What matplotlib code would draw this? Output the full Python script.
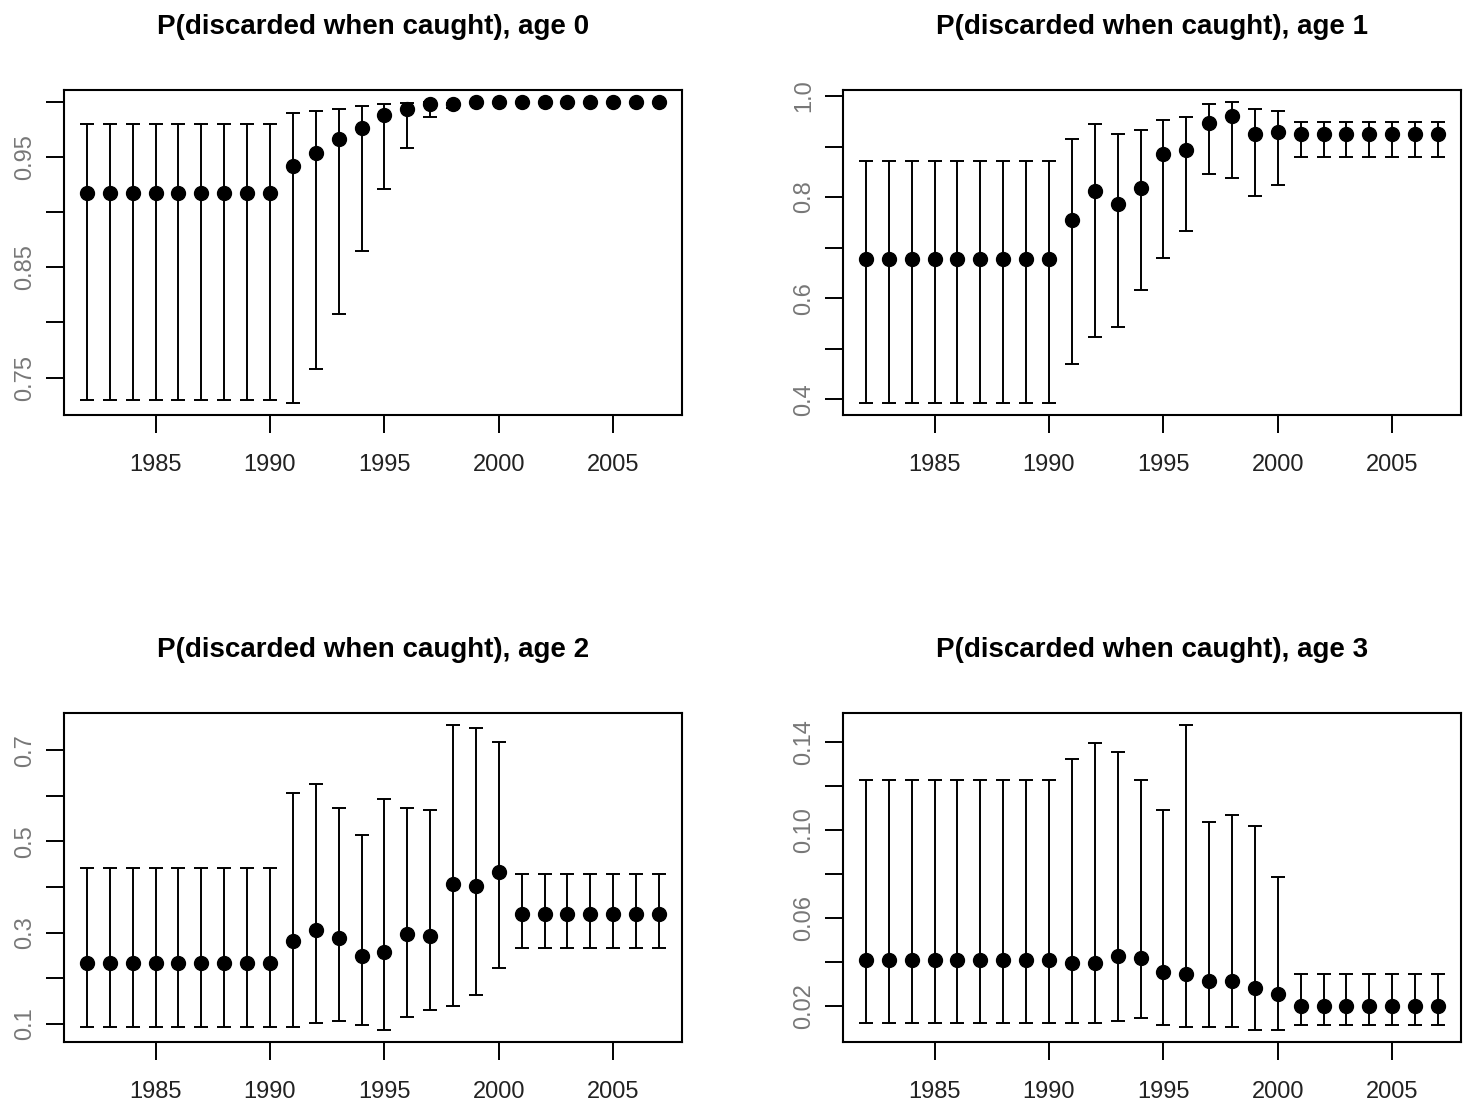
import numpy as np
import matplotlib
matplotlib.use("Agg")
import matplotlib.pyplot as plt

plt.rcParams['font.family'] = ['Liberation Sans', 'DejaVu Sans']

years = np.arange(1982, 2008)

# age 0
mid0 = [0.917]*9 + [0.942, 0.954, 0.966, 0.976, 0.988, 0.994, 0.9985, 0.998] + [1.000]*9
up0 = [0.980]*9 + [0.990, 0.992, 0.994, 0.996, 0.998, 0.999, 1.000, 0.999] + [1.000]*9
lo0 = [0.730]*9 + [0.727, 0.758, 0.808, 0.865, 0.921, 0.958, 0.986, 0.9945] + [0.9995]*9

# age 1
mid1 = [0.678]*9 + [0.755, 0.812, 0.786, 0.817, 0.886, 0.894, 0.946, 0.960, 0.925, 0.928] + [0.925]*7
up1 = [0.871]*9 + [0.914, 0.945, 0.924, 0.932, 0.953, 0.958, 0.984, 0.988, 0.975, 0.971] + [0.949]*7
lo1 = [0.393]*9 + [0.470, 0.523, 0.543, 0.617, 0.680, 0.733, 0.845, 0.837, 0.802, 0.824] + [0.879]*7

# age 2
mid2 = [0.234]*9 + [0.282, 0.305, 0.288, 0.249, 0.258, 0.297, 0.293, 0.407, 0.403, 0.433] + [0.341]*7
up2 = [0.442]*9 + [0.606, 0.627, 0.573, 0.514, 0.593, 0.573, 0.569, 0.755, 0.748, 0.719] + [0.428]*7
lo2 = [0.092]*9 + [0.092, 0.101, 0.106, 0.098, 0.087, 0.116, 0.131, 0.140, 0.164, 0.223] + [0.266]*7

# age 3
mid3 = [0.0406]*9 + [0.0394, 0.0394, 0.0426, 0.0418, 0.0354, 0.0345, 0.0314, 0.0314, 0.0278, 0.0253] + [0.0197]*7
up3 = [0.1227]*9 + [0.1319, 0.1392, 0.1353, 0.1227, 0.1090, 0.1475, 0.1037, 0.1067, 0.1017, 0.0785] + [0.0342]*7
lo3 = [0.0120]*9 + [0.0120, 0.0120, 0.0131, 0.0143, 0.0110, 0.0101, 0.0101, 0.0101, 0.0090, 0.0090] + [0.0110]*7

titles = ["P(discarded when caught), age 0", "P(discarded when caught), age 1",
          "P(discarded when caught), age 2", "P(discarded when caught), age 3"]
yticks = [[0.75, 0.80, 0.85, 0.90, 0.95, 1.00],
          [0.4, 0.5, 0.6, 0.7, 0.8, 0.9, 1.0],
          [0.1, 0.2, 0.3, 0.4, 0.5, 0.6, 0.7],
          [0.02, 0.04, 0.06, 0.08, 0.10, 0.12, 0.14]]
ylabels = [["0.75", "", "0.85", "", "0.95", ""],
           ["0.4", "", "0.6", "", "0.8", "", "1.0"],
           ["0.1", "", "0.3", "", "0.5", "", "0.7"],
           ["0.02", "", "0.06", "", "0.10", "", "0.14"]]
xticks = [1985, 1990, 1995, 2000, 2005]

series = [(mid0, up0, lo0), (mid1, up1, lo1), (mid2, up2, lo2), (mid3, up3, lo3)]

fig = plt.figure(figsize=(14.64, 11.08), dpi=100)
rects = [[0.0437, 0.6255, 0.4221, 0.2933],
         [0.5758, 0.6255, 0.4221, 0.2933],
         [0.0437, 0.0596, 0.4221, 0.2969],
         [0.5758, 0.0596, 0.4221, 0.2969]]

for i in range(4):
    ax = fig.add_axes(rects[i])
    mid, up, lo = [np.array(s) for s in series[i]]
    yerr = [mid - lo, up - mid]
    ax.errorbar(years, mid, yerr=yerr, fmt='o', color='black', ms=10,
                elinewidth=1.4, capsize=5, capthick=1.4)
    ax.set_xlim(1981, 2008)
    allv = np.concatenate([lo, up])
    rng = allv.max() - allv.min()
    ax.set_ylim(allv.min() - 0.04*rng, allv.max() + 0.04*rng)
    ax.set_xticks(xticks)
    ax.set_xticklabels([str(x) for x in xticks], fontsize=17, color='#222222')
    ax.set_yticks(yticks[i])
    ax.set_yticklabels(ylabels[i], rotation=90, va='center', fontsize=17, color='#777777')
    ax.tick_params(axis='x', length=13, width=1.4, pad=15)
    ax.tick_params(axis='y', length=13, width=1.4, pad=7)
    for sp in ax.spines.values():
        sp.set_linewidth(1.5)
    ax.set_title(titles[i], fontsize=20, fontweight='bold', pad=40)

fig.savefig("out.png", dpi=100)
